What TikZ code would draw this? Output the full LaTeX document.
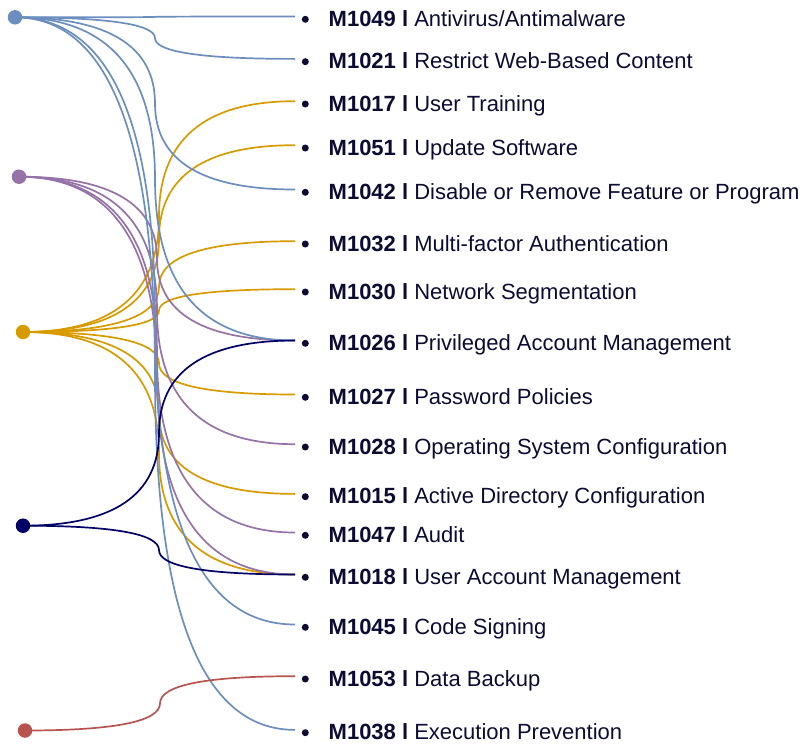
\documentclass[tikz,border=0pt]{standalone}
\usepackage{fontspec}
\setmainfont{Liberation Sans}
\usetikzlibrary{calc}
\pgfdeclarelayer{background}
\pgfsetlayers{background,main}
\definecolor{mblue}{HTML}{6C8EBF}
\definecolor{mpurple}{HTML}{9673A6}
\definecolor{mgold}{HTML}{D79B00}
\definecolor{mnavy}{HTML}{000066}
\definecolor{mred}{HTML}{B85450}
\definecolor{ink}{HTML}{0B0B33}
% a link: two quadratic arcs (written as cubics) that leave the source
% horizontally, turn vertical halfway and arrive horizontally
\newcommand\mlink[3]{%
  \draw[link=#1] let \p1=(#2.center), \p2=(#3),
      \n1={0.5*\x1+0.5*\x2}, \n2={0.5*\y1+0.5*\y2},
      \n3={\x1/3+2*\n1/3}, \n4={\n2/3+2*\y1/3},
      \n5={\n2/3+2*\y2/3}, \n6={\x2/3+2*\n1/3} in
    (\p1) .. controls ({\n3*1pt},\y1) and ({\n1*1pt},{\n4*1pt})
          .. ({\n1*1pt},{\n2*1pt})
          .. controls ({\n1*1pt},{\n5*1pt}) and ({\n6*1pt},\y2) .. (\p2);}
\begin{document}
\begin{tikzpicture}[x=1pt,y=-1pt,
  src/.style={circle, fill=#1, minimum size=14.5pt, inner sep=0pt},
  tdot/.style={circle, fill=ink, minimum size=7pt, inner sep=0pt},
  lbl/.style={anchor=base west, inner sep=0pt, text=ink,
              font=\fontsize{22}{26}\selectfont},
  link/.style={draw=#1, line width=1.7pt}]
\useasboundingbox (0,0) rectangle (812,747);

% mitigation list: dot, label and link end
\foreach \id/\txt/\yy in {
  M1049/{Antivirus/Antimalware}/19.3,
  M1021/{Restrict Web-Based Content}/61.7,
  M1017/{User Training}/104,
  M1051/{Update Software}/148,
  M1042/{Disable or Remove Feature or Program}/192.3,
  M1032/{Multi-factor Authentication}/244,
  M1030/{Network Segmentation}/292,
  M1026/{Privileged Account Management}/343.3,
  M1027/{Password Policies}/397.3,
  M1028/{Operating System Configuration}/447,
  M1015/{Active Directory Configuration}/496.7,
  M1047/{Audit}/535.3,
  M1018/{User Account Management}/577.3,
  M1045/{Code Signing}/627.3,
  M1053/{Data Backup}/679,
  M1038/{Execution Prevention}/732.7}{
  \node[tdot] (t\id) at (305.3,\yy) {};
  \node[lbl] (l\id) at (328.5,\yy+7) {\textbf{\id\ l} \txt};
  \coordinate (e\id) at (295,\yy-2.8);
}

% source nodes
\node[src=mblue]   (sBlue)   at (15,17.3)  {};
\node[src=mpurple] (sPurple) at (19,176.7) {};
\node[src=mgold]   (sGold)   at (23,332)   {};
\node[src=mnavy]   (sNavy)   at (23,525.7) {};
\node[src=mred]    (sRed)    at (25,730.5) {};

\begin{pgfonlayer}{background}
  \foreach \t in {M1017,M1051,M1032,M1030,M1027,M1015,M1018}
    {\mlink{mgold}{sGold}{e\t}}
  \foreach \t in {M1026,M1028,M1047,M1018}
    {\mlink{mpurple}{sPurple}{e\t}}
  \foreach \t in {M1049,M1021,M1042,M1026,M1045,M1038}
    {\mlink{mblue}{sBlue}{e\t}}
  \foreach \t in {M1026,M1018}
    {\mlink{mnavy}{sNavy}{e\t}}
  \mlink{mred}{sRed}{eM1053}
\end{pgfonlayer}
\end{tikzpicture}
\end{document}
